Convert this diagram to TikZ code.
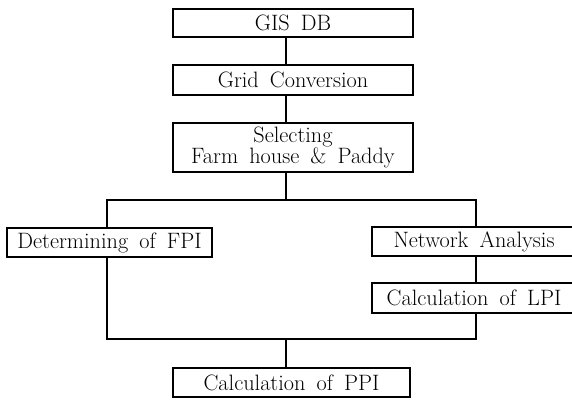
\documentclass[tikz,border=0pt]{standalone}
\newcommand\myboxfont{\fontsize{19}{18}\selectfont\spaceskip=0.5em plus 0.1em\relax}
\begin{document}
\begin{tikzpicture}[x=0.03cm,y=-0.03cm,
  box/.style={draw,line width=1.6pt,inner sep=0pt,font=\myboxfont,align=center},
  conn/.style={line width=1.6pt}]
\useasboundingbox (0,0) rectangle (572,399);
\clip (0,0) rectangle (572,399);
\node[box,minimum width=240*0.03cm,minimum height=28*0.03cm] (gis) at (293,23) {GIS DB};
\node[box,minimum width=240*0.03cm,minimum height=30*0.03cm] (grid) at (293,80) {Grid Conversion};
\node[box,minimum width=240*0.03cm,minimum height=49*0.03cm] (sel) at (293,147.5) {Selecting\\Farm house \& Paddy};
\node[box,minimum width=205*0.03cm,minimum height=29*0.03cm] (fpi) at (109.5,242.5) {Determining of FPI};
\node[box,minimum width=204*0.03cm,minimum height=29*0.03cm] (net) at (474,241.5) {Network Analysis};
\node[box,minimum width=204*0.03cm,minimum height=30*0.03cm] (lpi) at (474,298) {Calculation of LPI};
\node[box,minimum width=237*0.03cm,minimum height=29*0.03cm] (ppi) at (291.5,382.5) {Calculation of PPI};
\coordinate (cx) at (286,0);
\coordinate (sl) at (107,200);
\coordinate (sr) at (476,200);
\coordinate (ml) at (107,339);
\coordinate (mr) at (476,339);
\draw[conn] (gis.south -| cx) -- (grid.north -| cx);
\draw[conn] (grid.south -| cx) -- (sel.north -| cx);
\draw[conn] (sel.south -| cx) -- (sl -| cx);
\draw[conn] (fpi.north -| sl) -- (sl) -- (sr) -- (net.north -| sr);
\draw[conn] (net.south -| sr) -- (lpi.north -| sr);
\draw[conn] (fpi.south -| ml) -- (ml) -- (mr) -- (lpi.south -| mr);
\draw[conn] (ml -| cx) -- (ppi.north -| cx);
\end{tikzpicture}
\end{document}
